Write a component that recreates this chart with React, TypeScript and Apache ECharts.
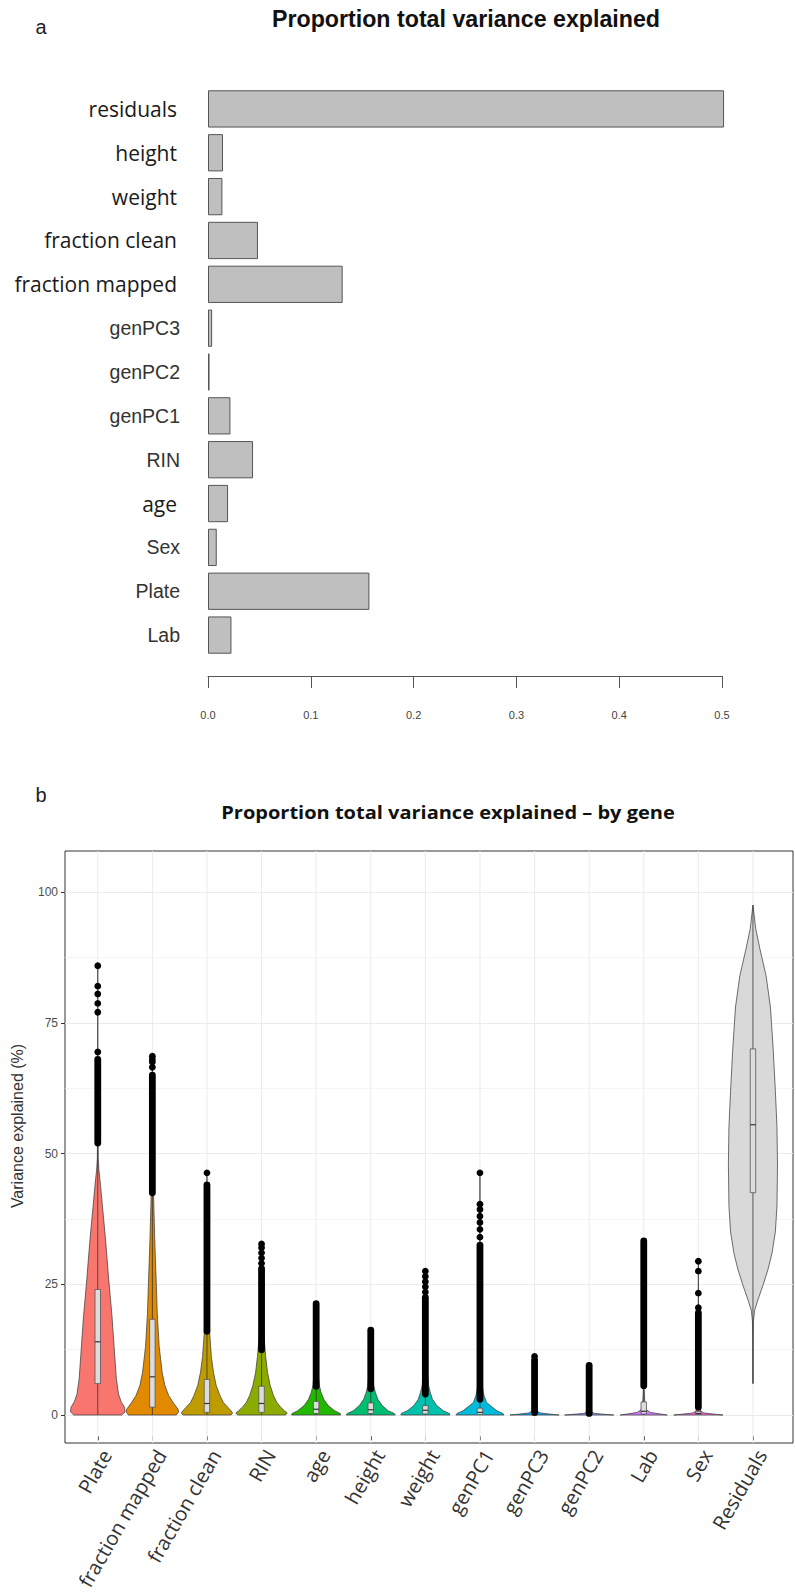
import React, { useEffect, useRef } from "react";
import * as echarts from "echarts";

// ---------------- Panel a data ----------------
const barCategories = [
  "residuals", "height", "weight", "fraction clean", "fraction mapped",
  "genPC3", "genPC2", "genPC1", "RIN", "age", "Sex", "Plate", "Lab",
];
const barValues = [
  0.502, 0.0146, 0.014, 0.0486, 0.131,
  0.004, 0.0015, 0.0218, 0.0438, 0.0195, 0.0085, 0.157, 0.0228,
];
const barAxisTicks = [0, 0.1, 0.2, 0.3, 0.4, 0.5];
const largeFontLabels = ["residuals", "height", "weight", "fraction clean", "fraction mapped", "age"];

// ---------------- Panel b data ----------------
const geneCategories = [
  "Plate", "fraction mapped", "fraction clean", "RIN", "age", "height", "weight",
  "genPC1", "genPC3", "genPC2", "Lab", "Sex", "Residuals",
];
const violinColors = [
  "#F8766D", "#E18A00", "#BE9C00", "#8CAB00", "#24B700", "#00BE70", "#00C1AB",
  "#00BBDA", "#00ACFC", "#8B93FF", "#D575FE", "#F962DD", "#D9D9D9",
];
const varianceTicks = [0, 25, 50, 75, 100];

const q1Values = [6, 1.5, 0.5, 0.5, 0.3, 0.3, 0.2, 0.1, 0.02, 0.02, 0.2, 0.1, 42.5];
const medianValues = [14, 7.3, 2.2, 2.2, 1.1, 1.0, 0.9, 0.5, 0.1, 0.1, 0.7, 0.3, 55.5];
const q3Values = [24, 18.3, 6.8, 5.5, 2.6, 2.3, 1.8, 1.3, 0.3, 0.25, 2.5, 0.7, 70];
const whiskerLow = [0, 0, 0, 0, 0, 0, 0, 0, 0, 0, 0, 0, 6];
const whiskerHigh = [52, 42.5, 16, 12.5, 5.5, 5, 4, 3, 0.5, 0.3, 5.6, 1.5, 97.5];

const denseOutlierLow = [52, 42.5, 16, 12.5, 5.5, 5, 4, 3, 0.5, 0.3, 5.6, 1.5, null];
const denseOutlierHigh = [68, 65, 44, 28, 21.3, 16.2, 22.5, 32.5, 10.5, 9.5, 33.3, 19.5, null];
const sparseOutliers: number[][] = [
  [69.4, 77, 78.7, 80.5, 82, 85.9],
  [66.5, 67.5, 68, 68.6],
  [46.3],
  [29, 30, 31, 32, 32.7],
  [],
  [],
  [23.5, 24.5, 25.5, 26.5, 27.5],
  [34, 35.5, 36.8, 38, 39.3, 40.3, 46.3],
  [11.2],
  [],
  [],
  [20.5, 23.3, 27.5, 29.4],
  [],
];

// violin outlines: [value, half-width in category units]
const violinPlate = [[0, 0.44], [0.6, 0.5], [1.5, 0.49], [2.5, 0.43], [4, 0.38], [7, 0.34], [13, 0.3], [19, 0.26], [26, 0.2], [30, 0.17], [35, 0.13], [40, 0.085], [44, 0.05], [47, 0.02], [49, 0.008], [55, 0.003], [85.9, 0]];
const violinFracMapped = [[0, 0.44], [0.6, 0.48], [1.1, 0.47], [2.4, 0.38], [3.7, 0.3], [5.6, 0.23], [8.1, 0.18], [13.1, 0.125], [19.4, 0.09], [25.8, 0.07], [30, 0.055], [35, 0.04], [42, 0.022], [50, 0.01], [60, 0.004], [68.6, 0]];
const violinFracClean = [[0, 0.44], [0.4, 0.47], [0.8, 0.44], [1.5, 0.38], [2.4, 0.3], [3.7, 0.24], [5.6, 0.17], [8.1, 0.12], [11.2, 0.08], [15.7, 0.05], [20, 0.032], [30, 0.015], [40, 0.006], [46.3, 0]];
const violinRIN = [[0, 0.44], [0.4, 0.47], [0.8, 0.42], [1.5, 0.35], [2.4, 0.28], [3.7, 0.22], [5.6, 0.16], [8.1, 0.11], [11.2, 0.075], [15, 0.045], [20, 0.025], [27, 0.012], [32.7, 0]];
const violinAge = [[0, 0.45], [0.3, 0.44], [0.8, 0.34], [1.8, 0.22], [3, 0.14], [4.3, 0.09], [5.6, 0.06], [8, 0.035], [12, 0.015], [21.3, 0]];
const violinHeight = [[0, 0.45], [0.3, 0.43], [0.8, 0.32], [1.8, 0.21], [3, 0.13], [4.3, 0.085], [5.6, 0.055], [8, 0.03], [12, 0.012], [16.2, 0]];
const violinWeight = [[0, 0.45], [0.3, 0.44], [0.8, 0.33], [1.8, 0.21], [3, 0.13], [4.3, 0.09], [5.6, 0.06], [8, 0.035], [14, 0.014], [27.5, 0]];
const violinGenPC1 = [[0, 0.44], [0.3, 0.42], [0.8, 0.31], [1.8, 0.19], [2.4, 0.12], [3.7, 0.075], [5, 0.05], [8, 0.025], [15, 0.009], [46.3, 0]];
const violinGenPC3 = [[0, 0.45], [0.15, 0.3], [0.4, 0.1], [0.8, 0.04], [1.5, 0.015], [4, 0.005], [11.2, 0]];
const violinGenPC2 = [[0, 0.45], [0.12, 0.3], [0.3, 0.1], [0.6, 0.04], [1.2, 0.015], [3, 0.005], [9.5, 0]];
const violinLab = [[0, 0.43], [0.2, 0.3], [0.5, 0.12], [1, 0.05], [2, 0.02], [5, 0.008], [33.3, 0]];
const violinSex = [[0, 0.45], [0.15, 0.3], [0.4, 0.1], [0.8, 0.04], [1.5, 0.015], [4, 0.005], [29.4, 0]];
const violinResiduals = [[6, 0], [15, 0.004], [18, 0.01], [20, 0.03], [22, 0.09], [25, 0.19], [28, 0.28], [31, 0.35], [35, 0.41], [40, 0.44], [48, 0.45], [55, 0.44], [62, 0.41], [70, 0.37], [78, 0.32], [84, 0.24], [89, 0.13], [93, 0.05], [97.5, 0]];
const violinProfiles = [
  violinPlate, violinFracMapped, violinFracClean, violinRIN, violinAge, violinHeight, violinWeight,
  violinGenPC1, violinGenPC3, violinGenPC2, violinLab, violinSex, violinResiduals,
];

// ---------------- layout ----------------
const W = 795;
const H = 1593;
const panelLeft = 65;
const panelRight = 793;
const panelTop = 851;
const panelBottom = 1443;
const zeroY = 1415;
const hundredY = 892;
const catUnit = 54.6; // px per category step

function measure(text: string, font: string): number {
  const ctx = document.createElement("canvas").getContext("2d");
  if (!ctx) return 1;
  ctx.font = font;
  return ctx.measureText(text).width || 1;
}

export default function App() {
  const ref = useRef<HTMLDivElement>(null);

  useEffect(() => {
    if (!ref.current) return;
    const chart = echarts.init(ref.current, null, { renderer: "svg" });

    const pxPerUnit = (zeroY - hundredY) / 100;
    const yMinPanel = -(panelBottom - zeroY) / pxPerUnit;
    const yMaxPanel = 100 + (hundredY - panelTop) / pxPerUnit;
    const xMaxPanel = 0.4 + (panelRight - panelLeft) / catUnit;
    const catLeft = panelLeft + 0.1 * catUnit;
    const catRight = W - (catLeft + 13 * catUnit);

    const titleA = "Proportion total variance explained";
    const titleB = "Proportion total variance explained \u2013 by gene";
    const fontA = 'bold 23px "Liberation Sans"';
    const fontB = 'bold 18px "Open Sans"';
    const scaleA = 388 / measure(titleA, fontA);
    const scaleB = 454 / measure(titleB, fontB);

    const option: any = {
      animation: false,
      textStyle: { fontFamily: "Liberation Sans" },
      grid: [
        { left: 208, right: 73, top: 87, height: 570 },
        {
          left: panelLeft, right: W - panelRight, top: panelTop, height: panelBottom - panelTop,
          show: true, borderColor: "#333", borderWidth: 1, backgroundColor: "transparent",
        },
        { left: panelLeft, right: W - panelRight, top: hundredY, height: zeroY - hundredY },
        { left: catLeft, right: catRight, top: panelTop, height: panelBottom - panelTop },
      ],
      xAxis: [
        {
          gridIndex: 0, type: "value",
          min: barAxisTicks[0], max: barAxisTicks[barAxisTicks.length - 1], interval: 0.1,
          offset: 19,
          axisLine: { show: true, lineStyle: { color: "#555", width: 1 } },
          axisTick: { show: true, length: 12, lineStyle: { color: "#555", width: 1 } },
          axisLabel: {
            margin: 33, fontSize: 11, color: "#444",
            formatter: (v: number) => v.toFixed(1),
          },
          splitLine: { show: false },
        },
        { gridIndex: 1, type: "value", min: 0.4, max: xMaxPanel, show: false },
        { gridIndex: 2, type: "value", min: 0, max: 1, show: false },
        {
          gridIndex: 3, type: "category", data: geneCategories, boundaryGap: true,
          axisLine: { show: false },
          axisTick: { show: true, alignWithLabel: true, length: 4, lineStyle: { color: "#333" } },
          axisLabel: {
            interval: 0, rotate: 60, fontFamily: "Open Sans", fontSize: 20, color: "#333", margin: 10,
            align: "right", verticalAlign: "top",
          },
          splitLine: { show: false },
        },
      ],
      yAxis: [
        {
          gridIndex: 0, type: "category", data: barCategories, inverse: true,
          axisLine: { show: false }, axisTick: { show: false },
          axisLabel: {
            interval: 0, margin: 28,
            formatter: (v: string) => (largeFontLabels.includes(v) ? `{c|${v}}` : `{r|${v}}`),
            rich: {
              c: { fontFamily: "Open Sans", fontSize: 21, color: "#1a1a1a", padding: [0, 3, 0, 0] },
              r: { fontFamily: "Liberation Sans", fontSize: 19.5, color: "#333" },
            },
          },
        },
        { gridIndex: 1, type: "value", min: yMinPanel, max: yMaxPanel, show: false },
        {
          gridIndex: 2, type: "value",
          min: varianceTicks[0], max: varianceTicks[varianceTicks.length - 1], interval: 25,
          axisLine: { show: false },
          axisTick: { show: true, length: 4, lineStyle: { color: "#333" } },
          axisLabel: { margin: 7, fontSize: 12, color: "#4D4D4D" },
          splitLine: { show: true, lineStyle: { color: "#EBEBEB", width: 1 } },
          minorTick: { show: false, splitNumber: 2 },
          minorSplitLine: { show: true, lineStyle: { color: "#F2F2F2", width: 0.8 } },
        },
        { gridIndex: 3, type: "value", show: false },
      ],
      series: [
        {
          type: "bar", xAxisIndex: 0, yAxisIndex: 0,
          data: barValues, barCategoryGap: "15%", clip: false,
          itemStyle: { color: "#BFBFBF", borderColor: "#555", borderWidth: 1 },
        },
        {
          type: "custom", xAxisIndex: 1, yAxisIndex: 1, z: 1,
          data: geneCategories.map((_, i) => [i + 1, 0]),
          encode: { x: 0, y: 1 },
          renderItem: (params: any, api: any) => {
            const cs = params.coordSys;
            const x = api.coord([params.dataIndex + 1, 0])[0];
            return {
              type: "line",
              shape: { x1: x, y1: cs.y, x2: x, y2: cs.y + cs.height },
              style: { stroke: "#EBEBEB", lineWidth: 1 },
            };
          },
        },
        {
          type: "custom", xAxisIndex: 1, yAxisIndex: 1, z: 3,
          data: geneCategories.map((_, i) => [i + 1, medianValues[i]]),
          encode: { x: 0, y: 1 },
          renderItem: (params: any, api: any) => {
            const i = params.dataIndex;
            const cx = i + 1;
            const prof = violinProfiles[i];
            const pts: number[][] = [];
            prof.forEach(([v, w]) => pts.push(api.coord([cx + w, v])));
            for (let k = prof.length - 1; k >= 0; k--) {
              const [v, w] = prof[k];
              pts.push(api.coord([cx - w, v]));
            }
            const yOf = (v: number) => api.coord([cx, v])[1];
            const xc = api.coord([cx, 0])[0];
            const xl = api.coord([cx - 0.05, 0])[0];
            const xr = api.coord([cx + 0.05, 0])[0];
            const children: any[] = [
              { type: "polygon", shape: { points: pts }, style: { fill: violinColors[i], stroke: "#333", lineWidth: 0.7 } },
              { type: "line", shape: { x1: xc, y1: yOf(whiskerLow[i]), x2: xc, y2: yOf(q1Values[i]) }, style: { stroke: "#333", lineWidth: 0.8 } },
              { type: "line", shape: { x1: xc, y1: yOf(q3Values[i]), x2: xc, y2: yOf(whiskerHigh[i]) }, style: { stroke: "#333", lineWidth: 0.8 } },
              {
                type: "rect",
                shape: { x: xl, y: yOf(q3Values[i]), width: xr - xl, height: Math.max(yOf(q1Values[i]) - yOf(q3Values[i]), 0.8) },
                style: { fill: "#DCDCDC", stroke: "#555", lineWidth: 0.8 },
              },
              { type: "line", shape: { x1: xl, y1: yOf(medianValues[i]), x2: xr, y2: yOf(medianValues[i]) }, style: { stroke: "#333", lineWidth: 1.2 } },
            ];
            const lo = denseOutlierLow[i];
            const hi = denseOutlierHigh[i];
            if (lo != null && hi != null) {
              children.push({
                type: "line",
                shape: { x1: xc, y1: yOf(lo), x2: xc, y2: yOf(hi) },
                style: { stroke: "#000", lineWidth: 6.8, lineCap: "round" },
              });
            }
            sparseOutliers[i].forEach((v) => {
              children.push({ type: "circle", shape: { cx: xc, cy: yOf(v), r: 3.4 }, style: { fill: "#000" } });
            });
            return { type: "group", children };
          },
        },
      ],
      graphic: [
        {
          type: "text", x: 41, y: 27,
          style: { text: "a", fontSize: 20, fontFamily: "Liberation Sans", fill: "#222", align: "center", verticalAlign: "middle", textAlign: "center", textVerticalAlign: "middle" },
        },
        {
          type: "text", x: 466, y: 19, scaleX: scaleA,
          style: { text: titleA, font: fontA, fill: "#111", align: "center", verticalAlign: "middle", textAlign: "center", textVerticalAlign: "middle" },
        },
        {
          type: "text", x: 41, y: 795,
          style: { text: "b", fontSize: 20, fontFamily: "Liberation Sans", fill: "#222", align: "center", verticalAlign: "middle", textAlign: "center", textVerticalAlign: "middle" },
        },
        {
          type: "text", x: 448, y: 812, scaleX: scaleB,
          style: { text: titleB, font: fontB, fill: "#111", align: "center", verticalAlign: "middle", textAlign: "center", textVerticalAlign: "middle" },
        },
        {
          type: "text", x: 17, y: 1126, rotation: Math.PI / 2,
          style: { text: "Variance explained (%)", fontSize: 16, fontFamily: "Liberation Sans", fill: "#333", align: "center", verticalAlign: "middle", textAlign: "center", textVerticalAlign: "middle" },
        },
      ],
    };

    chart.setOption(option);
    return () => chart.dispose();
  }, []);

  return (
    <div
      ref={ref}
      style={{ position: "absolute", left: 0, top: 0, width: W, height: H, background: "#fff" }}
    />
  );
}
